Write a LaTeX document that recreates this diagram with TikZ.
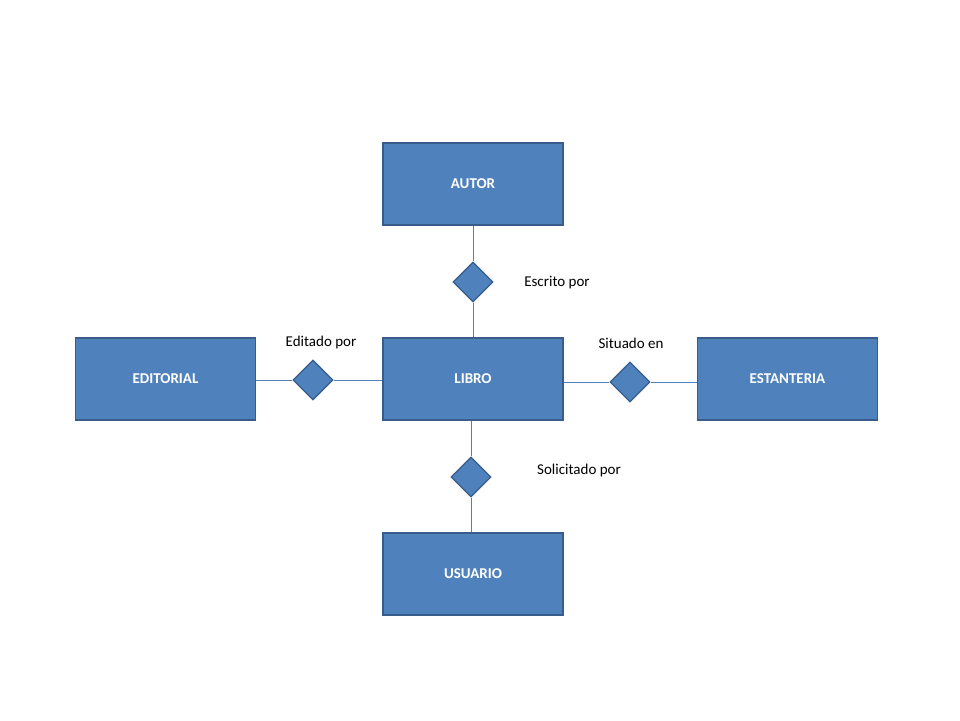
\documentclass[tikz,border=0pt]{standalone}
\usepackage{fontspec}
\setmainfont{Carlito}
\usetikzlibrary{shapes.geometric}
\definecolor{boxfill}{HTML}{4F81BD}
\definecolor{boxline}{HTML}{385D8A}
\begin{document}
\begin{tikzpicture}[x=1pt,y=-1pt,
 ent/.style={draw=boxline,line width=1.5pt,fill=boxfill,minimum width=180pt,minimum height=82pt,text=white,font=\fontsize{15}{18}\selectfont\bfseries,inner sep=0},
 rel/.style={diamond,draw=boxline,line width=1.2pt,fill=boxfill,minimum width=40pt,minimum height=40pt,inner sep=0},
 conn/.style={draw=boxfill,line width=0.8pt},
 lab/.style={font=\fontsize{15}{18}\selectfont}]
\useasboundingbox (0,0) rectangle (960,720);
\node[ent] (autor) at (473,184) {AUTOR};
\node[ent] (libro) at (473,379) {LIBRO};
\node[ent] (edit) at (165.5,379) {EDITORIAL};
\node[ent] (est) at (787.5,379) {ESTANTERIA};
\node[ent] (usu) at (473,574) {USUARIO};
\node[rel] (d1) at (473,282) {};
\node[rel] (d2) at (313,380) {};
\node[rel] (d3) at (630,382) {};
\node[rel] (d4) at (471,477) {};
\draw[conn] (autor) -- (d1) -- (libro);
\draw[conn] (edit.east|-d2) -- (d2) -- (libro.west|-d2);
\draw[conn] (libro.east|-d3) -- (d3) -- (est.west|-d3);
\draw[conn] (libro.south-|d4) -- (d4) -- (usu.north-|d4);
\node[lab] (l1) at (557,283) {Escrito por};
\node[lab] (l2) at (321,342) {Editado por};
\node[lab] (l3) at (631,343) {Situado en};
\node[lab] (l4) at (579,470) {Solicitado por};
\end{tikzpicture}
\end{document}
